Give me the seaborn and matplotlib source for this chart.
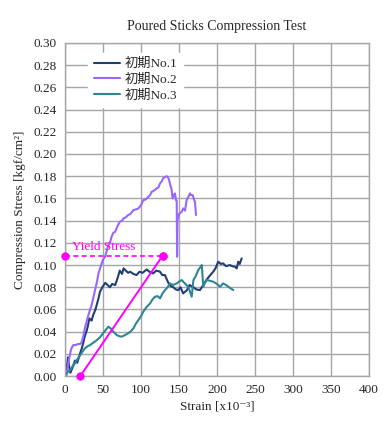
import pandas as pd
import matplotlib
matplotlib.use("Agg")
import matplotlib.pyplot as plt
from matplotlib.ticker import MultipleLocator
import seaborn as sns

# series (strain x10^-3, stress kgf/cm2)
no1_x = [0, 1, 3, 4, 5, 7, 10, 13, 16, 20, 22, 24, 26, 28.5, 30, 32, 35, 37, 40, 42,
         44, 46, 49, 53, 56, 59, 62, 66, 69, 72, 75, 77, 80, 83, 85.5, 90, 94, 98, 102, 107.5,
         111, 116, 120, 125, 128, 131.5, 134, 136, 139, 142.5, 146, 149, 152, 155.5, 158, 160, 164, 169, 173, 177.6,
         182, 186, 190, 195, 198, 201.7, 205, 208, 212, 217, 220, 223.7, 226, 228, 230, 232.5]
no1_y = [0, 0.005, 0.012, 0.017, 0.010, 0.003, 0.008, 0.014, 0.012, 0.021, 0.025, 0.030, 0.036, 0.041, 0.045, 0.052, 0.050, 0.055, 0.060, 0.065,
         0.070, 0.076, 0.080, 0.084, 0.082, 0.080, 0.083, 0.082, 0.088, 0.095, 0.092, 0.097, 0.095, 0.093, 0.094, 0.092, 0.091, 0.094, 0.093, 0.096,
         0.094, 0.0925, 0.095, 0.094, 0.091, 0.091, 0.087, 0.084, 0.081, 0.080, 0.078, 0.0775, 0.080, 0.0745, 0.076, 0.077, 0.082, 0.080, 0.078, 0.0775,
         0.082, 0.0865, 0.090, 0.094, 0.097, 0.103, 0.101, 0.1015, 0.099, 0.100, 0.099, 0.0985, 0.097, 0.103, 0.101, 0.106]

no2_x = [0, 2, 4, 6, 7.5, 9, 11, 14, 17.5, 20, 22, 24, 26, 28, 30.7, 33, 35, 37, 39.5, 42,
         44, 47, 50, 52.6, 55, 57, 59, 61, 63.5, 66, 69, 72, 75, 77, 80, 83, 86, 90, 93, 96.5,
         100, 103, 106, 109.6, 112, 114, 117, 120.6, 123, 125, 127, 129, 131, 133.8, 135.5, 137, 138.5, 140, 141.7, 143,
         144.7, 146, 147, 147.5, 148, 150, 151, 153.5, 155.7, 158, 160, 162, 164.5, 166, 168, 170, 171, 172.4]
no2_y = [0, 0.001, 0.011, 0.018, 0.023, 0.026, 0.028, 0.028, 0.029, 0.029, 0.031, 0.036, 0.043, 0.048, 0.055, 0.060, 0.064, 0.070, 0.0775, 0.085,
         0.0925, 0.099, 0.105, 0.1075, 0.113, 0.118, 0.1195, 0.125, 0.129, 0.130, 0.135, 0.139, 0.140, 0.142, 0.143, 0.145, 0.146, 0.1495, 0.150, 0.151,
         0.154, 0.1585, 0.159, 0.1615, 0.163, 0.166, 0.167, 0.169, 0.170, 0.1735, 0.175, 0.178, 0.179, 0.180, 0.179, 0.1765, 0.172, 0.169, 0.160, 0.163,
         0.1645, 0.1585, 0.158, 0.1075, 0.1405, 0.146, 0.1465, 0.148, 0.151, 0.149, 0.1585, 0.161, 0.1645, 0.163, 0.163, 0.1585, 0.157, 0.145]

no3_x = [0, 1, 4, 6.6, 10, 13, 16, 20, 23, 26, 30, 33, 37, 42, 46, 50, 54, 57, 60, 63.5,
         68, 71, 74.6, 79, 83, 86, 90, 93, 96.5, 100, 103, 107, 112, 115, 118.4, 122, 125, 128, 131.6, 135,
         138, 142, 147, 150, 153.5, 157, 160, 163, 166.7, 168, 169, 172, 175.4, 178, 180, 181, 182, 184, 186.4, 190,
         195, 200, 204, 208, 212, 215, 218, 221.5]
no3_y = [0, 0.001, 0.004, 0.0055, 0.009, 0.0115, 0.015, 0.019, 0.022, 0.025, 0.027, 0.028, 0.030, 0.0325, 0.035, 0.0385, 0.042, 0.0445, 0.043, 0.040,
         0.037, 0.036, 0.0355, 0.037, 0.0385, 0.040, 0.043, 0.047, 0.0505, 0.054, 0.058, 0.062, 0.0655, 0.069, 0.0715, 0.072, 0.070, 0.074, 0.0775, 0.080,
         0.0835, 0.082, 0.0835, 0.085, 0.0865, 0.084, 0.082, 0.079, 0.0715, 0.080, 0.0865, 0.090, 0.0955, 0.098, 0.100, 0.090, 0.0805, 0.084, 0.0865, 0.086,
         0.085, 0.083, 0.0805, 0.0835, 0.082, 0.0805, 0.079, 0.0775]

labels = ["初期No.1", "初期No.2", "初期No.3"]
colors = ["#1f3f73", "#9966ff", "#2e8596"]

# yield stress construction
yield_stress = 0.1085
yield_dash_x = [0, 128.5]
yield_line_x = [20, 128.5]
yield_line_y = [0, 0.1085]

frames = []
for lab, xs, ys in zip(labels, [no1_x, no2_x, no3_x], [no1_y, no2_y, no3_y]):
    assert len(xs) == len(ys), lab
    frames.append(pd.DataFrame({"strain": xs, "stress": ys, "sample": lab}))
df = pd.concat(frames, ignore_index=True)

sns.set_style("white")
fonts = ["Liberation Serif", "DejaVu Serif", "Noto Sans CJK JP"]
plt.rcParams["font.family"] = fonts
plt.rcParams["font.size"] = 9.5

fig = plt.figure(figsize=(3.92, 4.25), dpi=100)
ax = fig.add_axes([0.166, 0.115, 0.775, 0.784])

sns.lineplot(data=df, x="strain", y="stress", hue="sample", palette=colors,
             sort=False, estimator=None, linewidth=1.5, ax=ax)

# yield stress markers
ax.plot(yield_dash_x, [yield_stress, yield_stress], color="#ff00ff", lw=1.2,
        ls=(0, (3, 2)), marker="o", markersize=5, clip_on=False, zorder=5)
ax.plot(yield_line_x, yield_line_y, color="#ff00ff", lw=1.4,
        marker="o", markersize=5, clip_on=False, zorder=5)
ax.text(9, 0.1105, "Yield Stress", color="#ff00ff", fontsize=9.5, ha="left", va="bottom")

ax.set_xlim(0, 400)
ax.set_ylim(0, 0.30)
ax.xaxis.set_major_locator(MultipleLocator(50))
ax.xaxis.set_minor_locator(MultipleLocator(10))
ax.yaxis.set_major_locator(MultipleLocator(0.02))
ax.yaxis.set_minor_locator(MultipleLocator(0.01))
ax.yaxis.set_major_formatter(matplotlib.ticker.FormatStrFormatter("%.2f"))
ax.grid(True, which="major", color="#a6a6a6", linewidth=1.0)
ax.tick_params(which="both", direction="in", color="#a6a6a6", labelsize=9.5)
ax.tick_params(which="major", length=0, pad=6)
ax.tick_params(which="minor", length=4)
for s in ax.spines.values():
    s.set_color("#a6a6a6")
    s.set_linewidth(1.0)

ax.set_xlabel("Strain [x10⁻³]", fontsize=9.5, labelpad=3)
ax.set_ylabel("Compression Stress [kgf/cm²]", fontsize=9.5, labelpad=5)
ax.set_title("Poured Sticks Compression Test", fontsize=10, pad=9)

leg = ax.legend(loc="upper left", bbox_to_anchor=(0.055, 0.99), frameon=True,
                fancybox=False, edgecolor="white", facecolor="white", framealpha=1,
                fontsize=9.5, handlelength=2.0, handletextpad=0.35, labelspacing=0.25,
                borderpad=0.4, title=None)
for line in leg.get_lines():
    line.set_linewidth(1.5)

fig.savefig("out.png", dpi=100, facecolor="white")
